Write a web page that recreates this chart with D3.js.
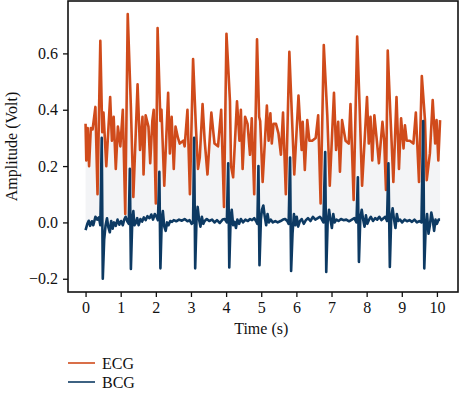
<!DOCTYPE html>
<html>
<head>
<meta charset="utf-8">
<script src="https://cdn.jsdelivr.net/npm/d3@7"></script>
<style>
  body { margin: 0; background: #fff; }
  svg text { font-family: "Liberation Serif", "DejaVu Serif", serif; fill: #111; }
</style>
</head>
<body>
<div id="chart"></div>
<script>
// ECG samples (time in s, amplitude in volt)
var ecgTime = [0.00,0.02,0.06,0.10,0.15,0.20,0.28,0.34,0.42,0.475,0.51,0.59,0.70,0.75,0.80,0.86,0.92,0.99,1.06,1.13,
  1.20,1.29,1.36,1.48,1.55,1.62,1.65,1.71,1.79,1.84,1.90,1.94,2.00,2.05,2.13,2.16,2.24,2.35,2.40,2.45,
  2.51,2.56,2.63,2.68,2.78,2.82,2.90,2.97,3.06,3.14,3.20,3.25,3.33,3.39,3.47,3.58,3.67,3.77,3.86,3.94,
  4.01,4.11,4.14,4.20,4.31,4.38,4.42,4.47,4.54,4.61,4.68,4.73,4.80,4.88,4.94,4.97,5.04,5.16,5.21,5.26,
  5.30,5.35,5.42,5.49,5.56,5.62,5.70,5.80,5.87,5.94,6.06,6.15,6.18,6.24,6.31,6.37,6.45,6.55,6.62,6.69,
  6.78,6.88,6.95,7.07,7.13,7.19,7.24,7.30,7.40,7.49,7.54,7.63,7.73,7.80,7.87,8.01,8.06,8.11,8.16,8.22,
  8.29,8.35,8.45,8.50,8.55,8.60,8.67,8.76,8.85,8.92,8.98,9.05,9.09,9.14,9.23,9.33,9.40,9.49,9.57,9.66,
  9.71,9.80,9.88,9.95,9.99,10.04,10.09];
var ecgVolt = [0.35,0.22,0.335,0.20,0.335,0.33,0.41,0.10,0.645,0.32,0.39,0.20,0.445,0.29,0.375,0.19,0.34,0.27,0.40,0.03,
  0.74,0.41,0.09,0.49,0.257,0.375,0.17,0.38,0.34,0.21,0.36,0.40,0.067,0.69,0.36,0.40,0.13,0.46,0.245,0.375,
  0.19,0.34,0.30,0.28,0.29,0.27,0.40,0.10,0.58,0.34,0.19,0.23,0.42,0.29,0.17,0.39,0.28,0.27,0.40,0.055,
  0.67,0.43,0.20,0.16,0.43,0.29,0.40,0.19,0.375,0.35,0.24,0.37,0.10,0.65,0.375,0.36,0.144,0.415,0.29,0.387,
  0.28,0.35,0.35,0.316,0.24,0.39,0.10,0.606,0.387,0.17,0.45,0.257,0.357,0.186,0.363,0.29,0.29,0.30,0.38,0.067,
  0.63,0.38,0.13,0.46,0.257,0.357,0.18,0.363,0.29,0.28,0.42,0.08,0.66,0.41,0.13,0.445,0.28,0.375,0.22,0.38,
  0.29,0.21,0.357,0.29,0.115,0.61,0.40,0.144,0.445,0.19,0.37,0.263,0.345,0.29,0.29,0.28,0.39,0.144,0.52,0.363,
  0.15,0.245,0.434,0.28,0.363,0.22,0.363];

// BCG samples (time in s, amplitude in volt)
var bcgTime = [0.00,0.05,0.09,0.13,0.18,0.22,0.28,0.33,0.38,0.42,0.46,0.49,0.53,0.57,0.61,0.65,0.69,0.73,0.77,0.81,
  0.86,0.91,0.96,1.01,1.06,1.10,1.14,1.19,1.23,1.26,1.29,1.33,1.36,1.39,1.43,1.47,1.51,1.56,1.61,1.66,
  1.71,1.76,1.82,1.87,1.92,1.97,2.02,2.06,2.10,2.13,2.17,2.20,2.24,2.28,2.32,2.36,2.41,2.46,2.51,2.58,
  2.66,2.74,2.82,2.90,2.96,3.02,3.06,3.09,3.12,3.16,3.19,3.23,3.27,3.31,3.35,3.39,3.45,3.52,3.60,3.67,
  3.74,3.82,3.90,3.96,4.02,4.06,4.09,4.13,4.16,4.20,4.24,4.28,4.32,4.37,4.42,4.48,4.55,4.62,4.68,4.74,
  4.80,4.85,4.89,4.92,4.95,4.99,5.02,5.06,5.10,5.14,5.18,5.22,5.27,5.33,5.40,5.47,5.55,5.62,5.68,5.74,
  5.78,5.82,5.85,5.89,5.93,5.97,6.01,6.05,6.10,6.15,6.21,6.27,6.33,6.40,6.47,6.54,6.61,6.67,6.72,6.77,
  6.82,6.85,6.89,6.93,6.97,7.01,7.05,7.09,7.14,7.20,7.27,7.34,7.42,7.50,7.58,7.65,7.71,7.75,7.78,7.82,
  7.86,7.90,7.94,7.98,8.02,8.07,8.12,8.18,8.24,8.30,8.36,8.42,8.48,8.53,8.58,8.62,8.66,8.70,8.74,8.78,
  8.82,8.86,8.90,8.95,9.01,9.08,9.15,9.22,9.29,9.36,9.43,9.50,9.56,9.61,9.64,9.68,9.72,9.76,9.80,9.84,
  9.88,9.92,9.96,10.00,10.05,10.09];
var bcgVolt = [-0.027,-0.005,0.006,-0.012,0.004,-0.010,0.020,0.010,0.018,-0.010,0.30,-0.20,-0.06,-0.010,0.015,-0.018,-0.035,0.005,-0.022,0.000,
  -0.012,0.010,-0.008,0.005,-0.010,0.010,0.020,0.003,-0.005,0.19,-0.165,0.010,0.040,-0.010,-0.002,0.015,-0.010,0.012,0.003,0.018,
  0.008,0.022,0.015,0.028,0.010,0.030,0.020,0.008,0.18,-0.163,0.015,0.040,-0.015,-0.030,0.000,-0.010,0.005,0.002,0.008,0.004,
  0.010,0.006,0.012,0.004,0.008,-0.005,0.000,0.30,-0.163,0.020,0.055,0.010,-0.015,0.020,-0.005,0.005,0.012,0.005,0.010,0.000,
  0.008,-0.002,0.010,0.012,0.000,0.21,-0.16,0.020,0.045,-0.010,0.002,-0.020,0.010,-0.005,0.012,0.000,0.010,0.005,0.012,0.008,
  0.015,0.005,-0.005,0.20,-0.152,0.010,0.045,0.060,0.020,-0.010,0.030,0.000,0.010,0.000,0.005,0.000,0.005,0.010,0.012,0.005,
  -0.005,0.23,-0.172,-0.040,0.030,-0.010,0.020,-0.015,0.005,0.012,-0.005,0.008,0.015,0.005,0.020,0.010,0.015,0.020,0.012,0.000,
  0.25,-0.176,0.000,0.045,0.010,-0.020,0.030,0.000,0.010,0.005,0.012,0.008,0.010,0.004,0.010,0.015,0.000,0.16,-0.14,0.015,
  0.045,0.010,-0.015,0.025,-0.005,0.010,0.020,0.005,0.015,0.010,0.020,0.008,0.015,0.020,0.005,0.21,-0.158,0.020,0.050,0.010,
  -0.020,0.030,0.005,0.010,0.000,0.010,0.004,0.008,0.002,0.010,0.000,0.005,0.000,0.36,-0.163,-0.020,0.030,-0.040,-0.010,0.035,
  0.010,-0.030,0.010,-0.005,0.010,0.010];

var xTicks = [0,1,2,3,4,5,6,7,8,9,10];
var yTicks = [-0.2,0.0,0.2,0.4,0.6];
var seriesNames = ["ECG","BCG"];
var seriesColors = ["#d04b1b","#0d3a63"];

var W = 459, H = 393;
var plot = {left: 68, right: 458, top: 1, bottom: 292};

var svg = d3.select("#chart").append("svg")
  .attr("width", W)
  .attr("height", H);

// Scales
var x = d3.scaleLinear()
  .domain([-0.5, 10.6])
  .range([plot.left, plot.right]);

var y = d3.scaleLinear()
  .domain([-0.247, 0.786])
  .range([plot.bottom, plot.top]);

var ecg = ecgTime.map(function(t, i){ return [t, ecgVolt[i]]; });
var bcg = bcgTime.map(function(t, i){ return [t, bcgVolt[i]]; });

var line = d3.line()
  .x(function(d){ return x(d[0]); })
  .y(function(d){ return y(d[1]); });

// light band between the two traces
svg.append("path")
  .attr("d", line(ecg.concat(bcg.slice().reverse())) + "Z")
  .attr("fill", "#f3f4f6")
  .attr("stroke", "none");

svg.append("path")
  .datum(ecg)
  .attr("d", line)
  .attr("fill", "none")
  .attr("stroke", seriesColors[0])
  .attr("stroke-width", 2.6)
  .attr("stroke-linejoin", "round");

svg.append("path")
  .datum(bcg)
  .attr("d", line)
  .attr("fill", "none")
  .attr("stroke", seriesColors[1])
  .attr("stroke-width", 2.6)
  .attr("stroke-linejoin", "round");

// Frame
svg.append("rect")
  .attr("x", plot.left)
  .attr("y", plot.top)
  .attr("width", plot.right - plot.left)
  .attr("height", plot.bottom - plot.top)
  .attr("fill", "none")
  .attr("stroke", "#111")
  .attr("stroke-width", 1.6);

// Axes
svg.append("g")
  .attr("transform", "translate(0," + plot.bottom + ")")
  .call(d3.axisBottom(x).tickValues(xTicks).tickFormat(d3.format("d")).tickSize(5).tickSizeOuter(0).tickPadding(5));

svg.append("g")
  .attr("transform", "translate(" + plot.left + ",0)")
  .call(d3.axisLeft(y).tickValues(yTicks).tickFormat(d3.format(".1f")).tickSize(5).tickSizeOuter(0).tickPadding(5));

svg.selectAll(".domain").remove();
svg.selectAll(".tick line").attr("stroke", "#111").attr("stroke-width", 1.3);
svg.selectAll(".tick text")
  .attr("font-family", "Liberation Serif, DejaVu Serif, serif")
  .attr("font-size", 16)
  .attr("fill", "#111");

// Axis labels
svg.append("text")
  .attr("text-anchor", "middle")
  .attr("x", x(5))
  .attr("y", 334)
  .style("font-size", "16px")
  .text("Time (s)");

svg.append("text")
  .attr("text-anchor", "middle")
  .attr("transform", "translate(17," + ((plot.top + plot.bottom) / 2) + ")rotate(-90)")
  .style("font-size", "16px")
  .text("Amplitude (Volt)");

// Legend
var legend = svg.selectAll(".legend")
  .data(seriesNames)
  .enter().append("g")
  .attr("class", "legend")
  .attr("transform", function(d, i){ return "translate(68," + (363 + i * 19) + ")"; });

legend.append("line")
  .attr("x1", 0).attr("x2", 27)
  .attr("stroke", function(d, i){ return seriesColors[i]; })
  .attr("stroke-width", 1.6);

legend.append("text")
  .attr("x", 34)
  .attr("y", 5.5)
  .style("font-size", "16px")
  .text(function(d){ return d; });
</script>
</body>
</html>
